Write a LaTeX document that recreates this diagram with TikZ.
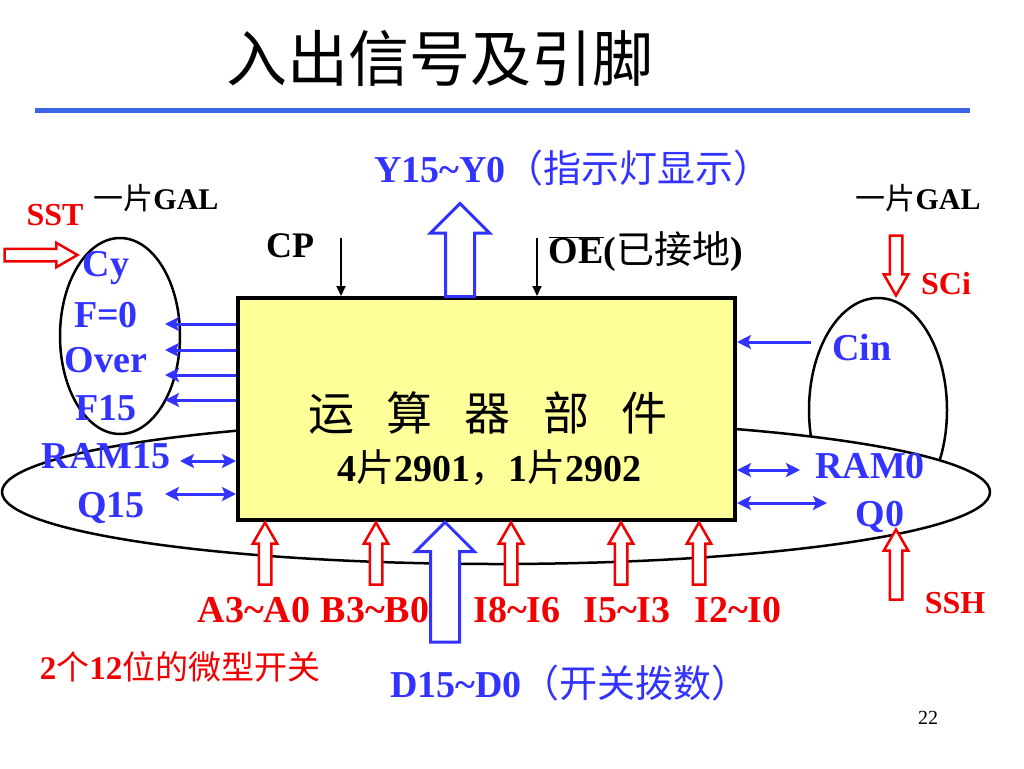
\documentclass[tikz,border=0pt]{standalone}
\usepackage{fontspec}
\setmainfont{Liberation Serif}
\newfontfamily\cjk{Noto Sans CJK SC}
\usetikzlibrary{arrows.meta,shapes.arrows}
\definecolor{sigblue}{RGB}{51,51,255}
\definecolor{sigred}{RGB}{240,0,0}
\definecolor{aluyellow}{RGB}{255,255,153}
\definecolor{titlerule}{RGB}{60,100,230}
\newcommand{\fs}[1]{\fontsize{#1}{#1}\selectfont}
\newcommand{\zh}[1]{{\cjk\mdseries #1}}
\tikzset{
  bluelbl/.style={text=sigblue, font=\bfseries\fs{38}, inner sep=0pt},
  redlbl/.style={text=sigred, font=\bfseries\fs{38}, inner sep=0pt},
  blacklbl/.style={text=black, font=\bfseries\fs{34}, inner sep=0pt},
  alubox/.style={draw=black, line width=4pt, fill=aluyellow, minimum width=497pt, minimum height=222pt, inner sep=0pt},
  gal/.style={draw=black, line width=2.5pt},
  outarrow/.style={-{Stealth[length=14pt, width=14pt, inset=3pt]}, line width=3pt, sigblue},
  bothway/.style={{Stealth[length=14pt, width=14pt, inset=3pt]}-{Stealth[length=14pt, width=14pt, inset=3pt]}, line width=3pt, sigblue},
  ctrl/.style={-{Triangle[length=10pt, width=9pt]}, line width=2pt, black},
  redpin/.style={single arrow, draw=sigred, line width=2.5pt, fill=white, inner sep=0pt, text height=5pt, text depth=5pt, single arrow head extend=6pt, single arrow tip angle=60},
  bluebus/.style={single arrow, draw=sigblue, line width=3pt, fill=white, inner sep=0pt, text height=13pt, text depth=13pt, single arrow head extend=15pt, single arrow tip angle=90}
}
\begin{document}
\begin{tikzpicture}[x=1pt, y=-1pt]
  \useasboundingbox (0,0) rectangle (1024,768);
  % title
  \node[font=\cjk\fs{61}] (title) at (440,58) {入出信号及引脚};
  \draw[titlerule, line width=5pt] (35,110) -- (970,110);
  % GAL chips and shift ring
  \draw[gal] (878,410) ellipse [x radius=69, y radius=112];
  \draw[gal, fill=white] (496,492) ellipse [x radius=494, y radius=72];
  \draw[gal] (120,336) ellipse [x radius=60, y radius=98];
  % ALU
  \node[alubox] (alu) at (486.5,409) {};
  \node[font=\cjk\fs{46}] (aluname) at (488,413) {运\hspace{0.7em}算\hspace{0.7em}器\hspace{0.7em}部\hspace{0.7em}件};
  \node[blacklbl, font=\bfseries\fs{38}] (aluchips) at (489,468) {4\zh{片}2901\zh{，}1\zh{片}2902};
  % top
  \node[bluebus, rotate=90, anchor=tail, minimum height=93pt] (ybus) at (460,298) {};
  \node[bluelbl] (ylbl) at (573,168) {Y15\textasciitilde Y0\zh{（指示灯显示）}};
  \coordinate (cptop) at (341,238);
  \coordinate (oetop) at (537,238);
  \draw[ctrl] (cptop) -- (cptop |- alu.north);
  \draw[ctrl] (oetop) -- (oetop |- alu.north);
  \node[blacklbl, font=\bfseries\fs{36}] (cp) at (290,246) {CP};
  \node[blacklbl, font=\bfseries\fs{38}] (oe) at (646,252) {$\overline{\hbox{OE}}$(\zh{已接地})};
  % left side
  \node[redlbl, font=\bfseries\fs{32}] (sst) at (55,215) {SST};
  \node[blacklbl, font=\bfseries\fs{30}] (galleft) at (156,198) {\zh{一片}GAL};
  \node[redpin, anchor=tip, minimum height=73pt] (sstpin) at (80,255) {};
  \node[bluelbl] (cy) at (106,268) {Cy};
  \node[bluelbl] (fzero) at (106,315) {F=0};
  \node[bluelbl] (over) at (106,360) {Over};
  \node[bluelbl] (ffift) at (106,408) {F15};
  \node[bluelbl] (ramft) at (106,456) {RAM15};
  \node[bluelbl] (qft) at (111,508) {Q15};
  \foreach \y [count=\i] in {324,350,375,400} {
    \coordinate (flag\i) at (165,\y);
    \draw[outarrow] (alu.west |- flag\i) -- (flag\i);
  }
  \coordinate (ramftend) at (180,461);
  \coordinate (qftend) at (165,494);
  \draw[bothway] (ramftend) -- (alu.west |- ramftend);
  \draw[bothway] (qftend) -- (alu.west |- qftend);
  % right side
  \node[blacklbl, font=\bfseries\fs{30}] (galright) at (918,198) {\zh{一片}GAL};
  \node[redpin, rotate=-90, anchor=tip, minimum height=60pt] (scipin) at (896,298) {};
  \node[redlbl, font=\bfseries\fs{32}] (sci) at (946,284) {SCi};
  \coordinate (cinend) at (811,342);
  \draw[outarrow] (cinend) -- (alu.east |- cinend);
  \node[bluelbl] (cin) at (862,347) {Cin};
  \coordinate (ramzend) at (800,470);
  \coordinate (qzend) at (827,503);
  \draw[bothway] (alu.east |- ramzend) -- (ramzend);
  \draw[bothway] (alu.east |- qzend) -- (qzend);
  \node[bluelbl] (ramz) at (870,466) {RAM0};
  \node[bluelbl] (qz) at (880,517) {Q0};
  \node[redpin, rotate=90, anchor=tip, minimum height=70pt] (sshpin) at (896,527) {};
  \node[redlbl, font=\bfseries\fs{32}] (ssh) at (955,603) {SSH};
  % bottom
  \foreach \x/\nm in {265/a,376/b,511/i,621/j,699/k}
    \node[redpin, rotate=90, anchor=tip, minimum height=62pt] (pin\nm) at (\x,520) {};
  \node[bluebus, rotate=90, anchor=tip, minimum height=120pt] (dbus) at (445,520) {};
  \node[redlbl] (albl) at (254,610) {A3\textasciitilde A0};
  \node[redlbl] (blbl) at (375,610) {B3\textasciitilde B0};
  \node[redlbl] (ilbl) at (517,610) {I8\textasciitilde I6};
  \node[redlbl] (jlbl) at (627,610) {I5\textasciitilde I3};
  \node[redlbl] (klbl) at (738,610) {I2\textasciitilde I0};
  \node[redlbl, font=\bfseries\fs{33}] (switches) at (180,667) {2\zh{个}12\zh{位的微型开关}};
  \node[bluelbl] (dlbl) at (570,683) {D15\textasciitilde D0\zh{（开关拨数）}};
  \node[font=\fs{20}] (page) at (928,718) {22};
\end{tikzpicture}
\end{document}
